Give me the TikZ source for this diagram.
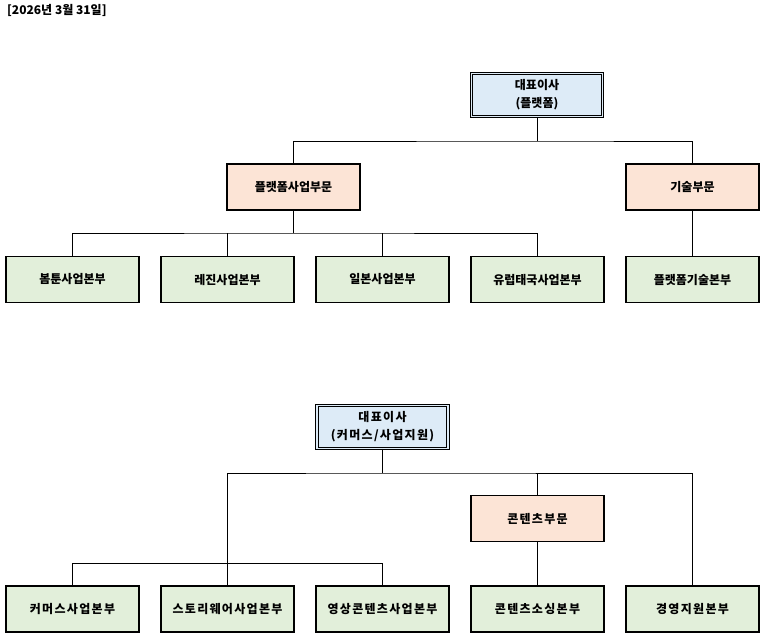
\documentclass[tikz,border=0pt]{standalone}
\usepackage{fontspec}
\setmainfont{Noto Sans CJK KR}
\newfontfamily\spacedkr[LetterSpace=11]{Noto Sans CJK KR}
\begin{document}
\begin{tikzpicture}[x=1pt,y=-1pt,
  font=\fontsize{12}{18}\selectfont\bfseries,
  box/.style={draw=black, line width=1.1pt, minimum width=133pt, minimum height=46pt, inner sep=0pt, align=center},
  ceobox/.style={box, fill=ceoblue, double=ceoblue, double distance=1.6pt, line width=0.8pt, minimum width=131pt, minimum height=43pt},
  divbox/.style={box, fill=peach},
  unitbox/.style={box, fill=palegreen},
  spaced/.style={font=\spacedkr\fontsize{12}{18}\selectfont\bfseries},
  conn/.style={draw=black, line width=0.9pt}]
\definecolor{ceoblue}{HTML}{DDEBF7}
\definecolor{peach}{HTML}{FCE4D6}
\definecolor{palegreen}{HTML}{E2EFDA}
\useasboundingbox (0,0) rectangle (763,638);

\node[anchor=north west, inner sep=0pt] (date) at (7,4) {[2026년 3월 31일]};

% top chart
\node[ceobox] (ceo1) at (537,95) {대표이사\\(플랫폼)};
\node[divbox] (pb) at (293.5,187) {플랫폼사업부문};
\node[divbox] (tech) at (692.5,187) {기술부문};
\node[unitbox] (r1) at (72.5,279.5) {봄툰사업본부};
\node[unitbox] (r2) at (227.5,279.5) {레진사업본부};
\node[unitbox] (r3) at (382.5,279.5) {일본사업본부};
\node[unitbox] (r4) at (537.5,279.5) {유럽태국사업본부};
\node[unitbox] (r5) at (692.5,279.5) {플랫폼기술본부};

\coordinate (bus1) at (537,141);
\coordinate (bus2) at (293.5,233);
\draw[conn] (ceo1.south) -- (bus1);
\draw[conn] (pb.north) |- (bus1) -| (tech.north);
\draw[conn] (pb.south) -- (bus2);
\draw[conn] (r1.north) |- (bus2) -| (r4.north);
\draw[conn] (r2.north) -- (r2.north |- bus2);
\draw[conn] (r3.north) -- (r3.north |- bus2);
\draw[conn] (tech.south) -- (r5.north);

% bottom chart
\begin{scope}[spaced]
\node[ceobox] (ceo2) at (382.5,427) {대표이사\\(커머스/사업지원)};
\node[divbox] (cont) at (537.5,518.5) {콘텐츠부문};
\node[unitbox] (b1) at (72.5,609) {커머스사업본부};
\node[unitbox] (b2) at (227.5,609) {스토리웨어사업본부};
\node[unitbox] (b3) at (382.5,609) {영상콘텐츠사업본부};
\node[unitbox] (b4) at (537.5,609) {콘텐츠소싱본부};
\node[unitbox] (b5) at (692.5,609) {경영지원본부};
\end{scope}

\coordinate (bus3) at (382.5,473);
\coordinate (bus4) at (227.5,563);
\draw[conn] (ceo2.south) -- (bus3);
\draw[conn] (b2.north) |- (bus3) -| (b5.north);
\draw[conn] (cont.north) -- (cont.north |- bus3);
\draw[conn] (b1.north) |- (bus4) -| (b3.north);
\draw[conn] (cont.south) -- (b4.north);
\end{tikzpicture}
\end{document}
